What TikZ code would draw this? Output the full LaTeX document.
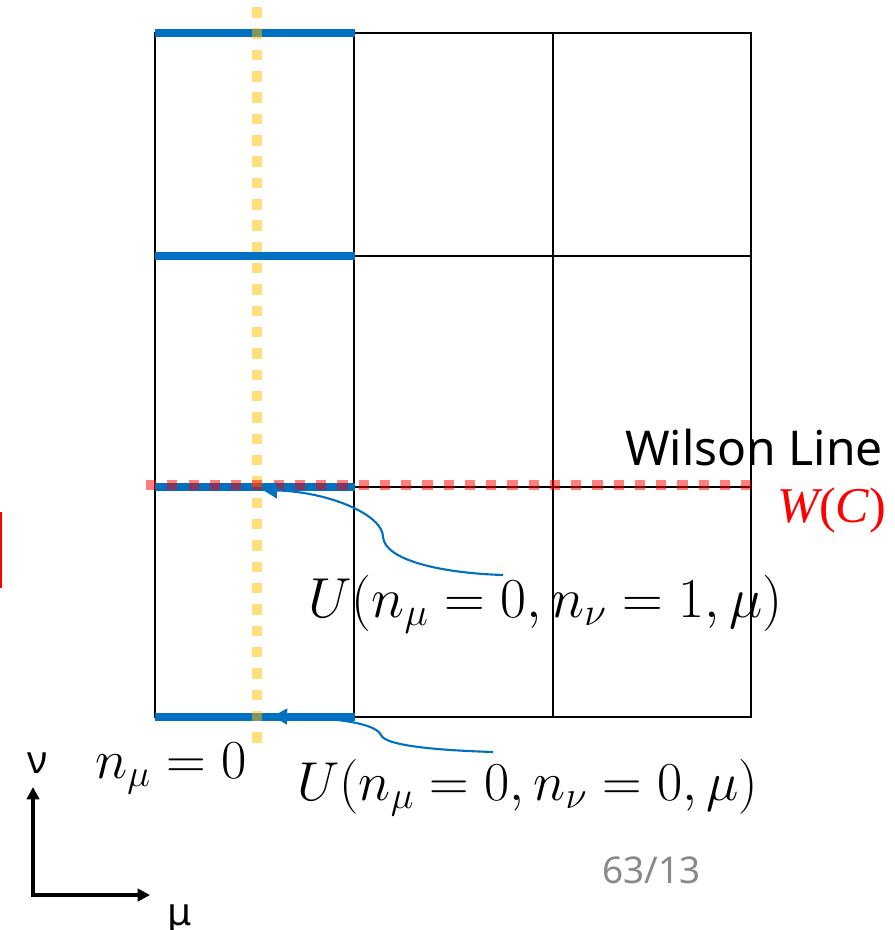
\RequirePackage{fix-cm}
\documentclass[tikz,border=0pt]{standalone}
\usepackage{fontspec}
\newfontfamily\jsans{Noto Sans}
\newfontfamily\tserif{Liberation Serif}
\usetikzlibrary{arrows.meta}
\definecolor{linkblue}{HTML}{0070C0}
\definecolor{wyellow}{HTML}{FFC000}
\definecolor{pagegray}{HTML}{898989}
\newcommand\mathlbl[1]{\fontsize{#1}{34}\selectfont}
\begin{document}
\begin{tikzpicture}[x=0.02cm,y=-0.02cm,
 gridline/.style={line width=1.1pt, black},
 linkline/.style={line width=4.3pt, linkblue},
 ydots/.style={line width=6.2pt, wyellow, opacity=0.5, dash pattern=on 6pt off 6.14pt},
 rdots/.style={line width=5.7pt, red, opacity=0.5, dash pattern=on 5.8pt off 6.3pt},
 pointer/.style={line width=1.2pt, linkblue, -{Triangle[length=8pt,width=9pt]}},
 axis/.style={line width=1.8pt, {Triangle[length=7pt,width=7pt]}-{Triangle[length=7pt,width=7pt]}},
 lbl/.style={inner sep=0pt, anchor=base west},
]
\useasboundingbox (0,0) rectangle (894,930);
% lattice
\draw[gridline] (155,33) rectangle (751,717);
\foreach \x in {354,553} \draw[gridline] (\x,33) -- (\x,717);
\foreach \y in {256,487} \draw[gridline] (155,\y) -- (751,\y);
% link variables
\foreach \y in {33,256,487,717} \draw[linkline] (155,\y) -- (355,\y);
% dotted lines
\draw[ydots] (257,7) -- (257,743);
\draw[rdots] (146,485) -- (752,485);
% red bar at left edge
\fill[red] (0,512) rectangle (2.5,588);
% labels
\node[lbl] (wl) at (625,465) {\jsans\fontsize{27.3}{32}\selectfont Wilson Line};
\node[lbl, text=red] (wc) at (777,522) {\tserif\fontsize{28.5}{34}\selectfont\itshape W\upshape(\itshape C\upshape)};
\node[lbl] (u1) at (308,617) {\mathlbl{32.1}$U(n_\mu=0,n_\nu=1,\mu)$};
\node[lbl] (u0) at (297,800) {\mathlbl{31.2}$U(n_\mu=0,n_\nu=0,\mu)$};
\node[lbl] (nmu) at (95,778) {\mathlbl{31.3}$n_\mu=0$};
\node[lbl, text=pagegray] (pg) at (602,883) {\jsans\fontsize{21}{25}\selectfont 63/13};
\node[lbl] (nu) at (27,773) {\jsans\fontsize{22}{26}\selectfont ν};
\node[lbl] (mu) at (167,925) {\jsans\fontsize{22}{26}\selectfont μ};
% axes
\coordinate (o) at (33,895);
\coordinate (nutip) at (33,787);
\coordinate (mutip) at (150,895);
\draw[axis] (nutip) -- (o) -- (mutip);
% pointers
\coordinate (s1) at (503,575);
\coordinate (b1) at (383,537);
\coordinate (t1) at (263,490);
\draw[pointer] (s1) .. controls (440,573) and (385,560) .. (b1) .. controls (383,515) and (330,492) .. (t1);
\coordinate (s0) at (493,752);
\coordinate (b0) at (381,735);
\coordinate (t0) at (273,716);
\draw[pointer] (s0) .. controls (430,750) and (385,745) .. (b0) .. controls (375,722) and (330,718) .. (t0);
\end{tikzpicture}
\end{document}
